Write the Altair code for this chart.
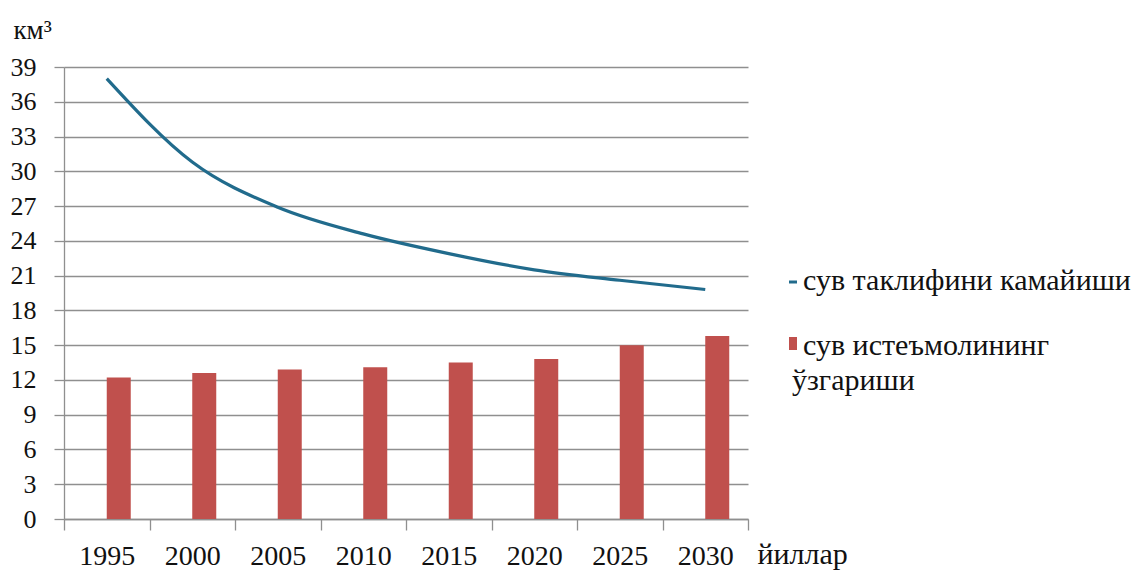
import altair as alt
import pandas as pd

# --- data -------------------------------------------------------------
years = ["1995", "2000", "2005", "2010", "2015", "2020", "2025", "2030"]
supply = [38.0, 30.8, 26.9, 24.6, 22.9, 21.5, 20.6, 19.8]   # сув таклифи, км³
demand = [12.2, 12.6, 12.9, 13.1, 13.5, 13.8, 15.0, 15.8]   # сув истеъмоли, км³
y_ticks = list(range(0, 40, 3))

supply_name = "сув таклифини камайиши"
demand_name = ["сув истеъмолининг", "ўзгариши"]
y_title = "км³"
x_title = "йиллар"

# --- styling ----------------------------------------------------------
FONT = "Liberation Serif"
LINE_COLOR = "#216b8c"
BAR_COLOR = "#c0504d"
GRID = "#8f8f8f"
INK = "#111111"

W, H = 684, 452

df = pd.DataFrame({"year": years, "supply": supply, "demand": demand})

x_axis = alt.Axis(
    title=x_title,
    titleFont=FONT, titleFontSize=30, titleFontWeight="normal", titleColor=INK,
    titleAlign="left", titleBaseline="alphabetic", titleAngle=0,
    titleX=693, titleY=44,
    labelAngle=0, labelFont=FONT, labelFontSize=28, labelColor=INK,
    labelBaseline="alphabetic", labelPadding=34, labelOverlap=False,
    tickBand="extent", tickSize=11, tickColor=GRID, tickWidth=1.3,
    domainColor=GRID, domainWidth=1.3, grid=False,
)

y_axis = alt.Axis(
    values=y_ticks,
    title=y_title,
    titleFont=FONT, titleFontSize=27, titleFontWeight="normal", titleColor=INK,
    titleAngle=0, titleAlign="left", titleBaseline="alphabetic",
    titleX=-51, titleY=-29,
    labelFont=FONT, labelFontSize=26, labelColor=INK, labelPadding=18,
    labelOverlap=False, labelBound=False, labelFlush=False,
    tickSize=10, tickColor=GRID, tickWidth=1.3,
    domainColor=GRID, domainWidth=1.3,
    grid=True, gridColor=GRID, gridWidth=1.3,
)

x_scale = alt.Scale(paddingInner=0, paddingOuter=0)
y_scale = alt.Scale(domain=[0, 39], nice=False, zero=True)

bars = alt.Chart(df).mark_bar(color=BAR_COLOR, size=24, xOffset=12).encode(
    x=alt.X("year:O", sort=years, scale=x_scale, axis=x_axis),
    y=alt.Y("demand:Q", scale=y_scale, axis=y_axis),
)

line = alt.Chart(df).mark_line(
    color=LINE_COLOR, strokeWidth=3.2, interpolate="monotone"
).encode(
    x=alt.X("year:O", sort=years, scale=x_scale, axis=x_axis),
    y=alt.Y("supply:Q", scale=y_scale, axis=y_axis),
)

# --- legend drawn beside the plot -------------------------------------
one = pd.DataFrame({"k": [0]})

def legend_text(text, px, py):
    return alt.Chart(one).mark_text(
        text=text, font=FONT, fontSize=30, color=INK,
        align="left", baseline="alphabetic",
    ).encode(x=alt.value(px), y=alt.value(py))

leg_line = alt.Chart(one).mark_rule(color=LINE_COLOR, strokeWidth=3).encode(
    x=alt.value(725), x2=alt.value(733), y=alt.value(215)
)
leg_box = alt.Chart(one).mark_rect(color=BAR_COLOR).encode(
    x=alt.value(725), x2=alt.value(733), y=alt.value(270), y2=alt.value(283)
)

chart = alt.layer(
    bars,
    line,
    leg_line,
    legend_text(supply_name, 739, 223),
    leg_box,
    legend_text(demand_name[0], 739, 288),
    legend_text(demand_name[1], 728, 323),
).properties(
    width=W,
    height=H,
    autosize=alt.AutoSizeParams(type="none"),
    padding={"left": 64, "top": 67, "right": 389, "bottom": 52},
    background="white",
).configure(
    font=FONT
).configure_axis(
    labelFont=FONT, titleFont=FONT
).configure_text(
    font=FONT
).configure_view(stroke=None)

chart.save("out.html", embed_options={"renderer": "svg", "actions": False})
